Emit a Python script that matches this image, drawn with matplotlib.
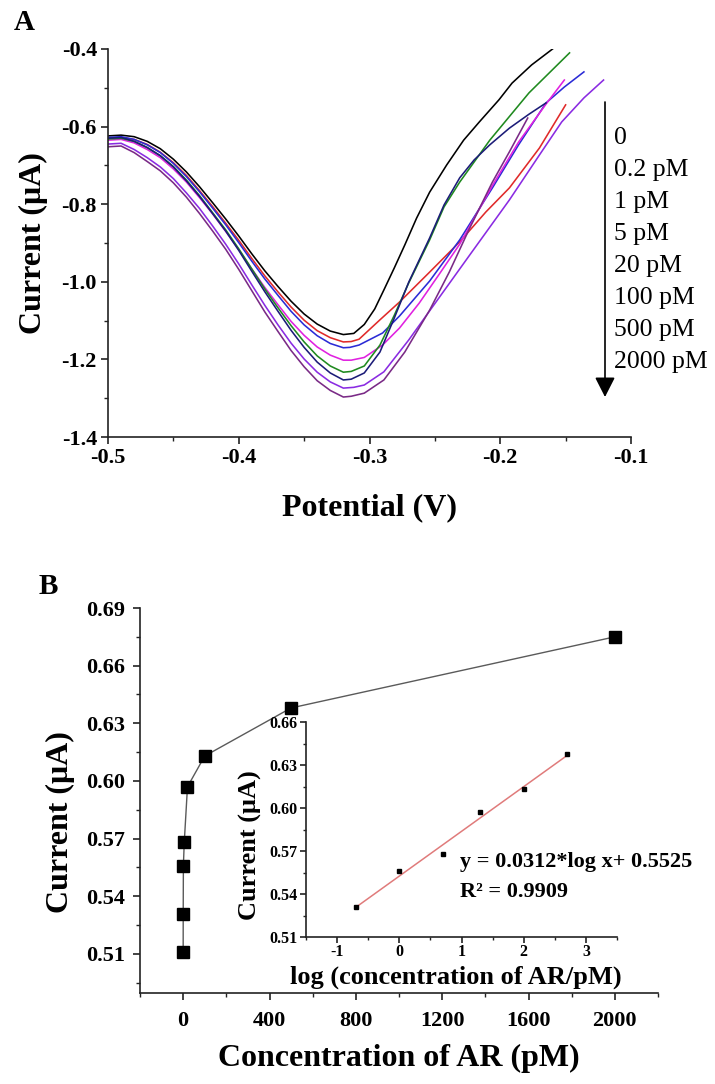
import numpy as np
import matplotlib
matplotlib.use("Agg")
import matplotlib.pyplot as plt
from matplotlib.ticker import FixedLocator, MultipleLocator, FormatStrFormatter

plt.rcParams['font.family'] = ['Liberation Serif', 'DejaVu Serif']
plt.rcParams['font.weight'] = 'bold'
plt.rcParams['axes.unicode_minus'] = False

W, H = 715, 1084

# ---------------- Panel A data (DPV curves) ----------------
pot_left = [-0.50, -0.49, -0.48, -0.47, -0.46, -0.45, -0.44, -0.43, -0.42, -0.41,
            -0.40, -0.39, -0.38, -0.37, -0.36, -0.35, -0.34, -0.33, -0.32]

cur0_left = [-0.624, -0.622, -0.626, -0.638, -0.657, -0.684, -0.717, -0.755, -0.796, -0.838,
             -0.882, -0.928, -0.972, -1.012, -1.050, -1.083, -1.109, -1.127, -1.136]
pot0_right = [-0.312, -0.304, -0.296, -0.289, -0.281, -0.273, -0.264, -0.254, -0.241, -0.228,
              -0.216, -0.201, -0.191, -0.176, -0.160]
cur0_right = [-1.133, -1.110, -1.070, -1.021, -0.964, -0.905, -0.836, -0.769, -0.699, -0.635,
              -0.588, -0.531, -0.488, -0.441, -0.400]

cur02_left = [-0.630, -0.628, -0.633, -0.646, -0.666, -0.693, -0.726, -0.765, -0.806, -0.849,
              -0.893, -0.940, -0.985, -1.026, -1.065, -1.099, -1.126, -1.144, -1.155]
pot02_right = [-0.314, -0.308, -0.292, -0.277, -0.254, -0.231, -0.211, -0.193, -0.170, -0.150]
cur02_right = [-1.154, -1.148, -1.098, -1.052, -0.975, -0.897, -0.820, -0.758, -0.655, -0.544]

cur1_left = [-0.628, -0.626, -0.633, -0.647, -0.667, -0.695, -0.729, -0.768, -0.810, -0.853,
             -0.899, -0.947, -0.993, -1.035, -1.076, -1.111, -1.139, -1.159, -1.170]
pot1_right = [-0.315, -0.308, -0.290, -0.277, -0.254, -0.231, -0.206, -0.186, -0.165, -0.151, -0.136]
cur1_right = [-1.169, -1.163, -1.132, -1.088, -0.998, -0.892, -0.758, -0.647, -0.539, -0.498, -0.459]

cur5_left = [-0.635, -0.633, -0.642, -0.659, -0.680, -0.709, -0.743, -0.783, -0.825, -0.870,
             -0.917, -0.967, -1.015, -1.059, -1.102, -1.138, -1.168, -1.189, -1.202]
pot5_right = [-0.314, -0.304, -0.290, -0.277, -0.262, -0.247, -0.231, -0.206, -0.186, -0.165, -0.151]
cur5_right = [-1.202, -1.195, -1.163, -1.119, -1.055, -0.982, -0.903, -0.752, -0.640, -0.542, -0.480]

cur20_left = [-0.632, -0.630, -0.638, -0.654, -0.675, -0.703, -0.738, -0.778, -0.822, -0.866,
              -0.915, -0.967, -1.019, -1.067, -1.113, -1.155, -1.191, -1.217, -1.233]
pot20_right = [-0.314, -0.304, -0.292, -0.281, -0.270, -0.254, -0.243, -0.231, -0.208, -0.178, -0.147]
cur20_right = [-1.231, -1.217, -1.163, -1.086, -1.003, -0.892, -0.807, -0.743, -0.635, -0.513, -0.410]

cur100_left = [-0.630, -0.628, -0.638, -0.654, -0.675, -0.704, -0.740, -0.780, -0.824, -0.869,
               -0.919, -0.973, -1.026, -1.076, -1.125, -1.169, -1.207, -1.235, -1.253]
pot100_right = [-0.314, -0.304, -0.292, -0.281, -0.270, -0.254, -0.243, -0.231, -0.220, -0.208,
                -0.193, -0.178, -0.165]
cur100_right = [-1.251, -1.235, -1.181, -1.093, -1.001, -0.887, -0.802, -0.732, -0.686, -0.647,
                -0.604, -0.568, -0.539]

cur500_left = [-0.645, -0.643, -0.659, -0.680, -0.704, -0.734, -0.771, -0.811, -0.856, -0.903,
               -0.954, -1.008, -1.061, -1.111, -1.158, -1.199, -1.233, -1.258, -1.274]
pot500_right = [-0.312, -0.304, -0.289, -0.270, -0.247, -0.224, -0.193, -0.170, -0.153, -0.136, -0.121]
cur500_right = [-1.272, -1.266, -1.232, -1.150, -1.042, -0.934, -0.789, -0.673, -0.588, -0.526, -0.480]

cur2000_left = [-0.652, -0.650, -0.667, -0.690, -0.714, -0.745, -0.782, -0.824, -0.869, -0.916,
                -0.968, -1.023, -1.078, -1.128, -1.177, -1.219, -1.255, -1.280, -1.297]
pot2000_right = [-0.314, -0.304, -0.289, -0.273, -0.254, -0.239, -0.224, -0.206, -0.193, -0.179]
cur2000_right = [-1.295, -1.287, -1.253, -1.181, -1.073, -0.975, -0.866, -0.743, -0.665, -0.578]

legend_labels = ["0", "0.2 pM", "1 pM", "5 pM", "20 pM", "100 pM", "500 pM", "2000 pM"]
curve_colors = ["#000000", "#e02a2a", "#2b2bd6", "#e021e0", "#1f8a1f", "#1c1c78", "#8a2be2", "#7a2a86"]

# ---------------- Panel B data ----------------
conc_pM = [0, 0.2, 1, 5, 20, 100, 500, 2000]
current_uA = [0.511, 0.531, 0.556, 0.568, 0.597, 0.613, 0.638, 0.675]

inset_conc_pM = [0.2, 1, 5, 20, 100, 500]
inset_current = [0.531, 0.556, 0.568, 0.597, 0.613, 0.638]
fit_logx = [-0.699, 2.699]
fit_current = [0.5307, 0.6367]

# ---------------- figure ----------------
fig = plt.figure(figsize=(W / 100, H / 100), dpi=100)


def add_axes_px(l, t, r, b):
    return fig.add_axes([l / W, 1 - b / H, (r - l) / W, (b - t) / H])


def ftext(px, py, s, **kw):
    return fig.text(px / W, 1 - py / H, s, **kw)


def style_axes(ax, labelsize, pad, maj=5, mnr=3):
    for s in ['top', 'right']:
        ax.spines[s].set_visible(False)
    for s in ['left', 'bottom']:
        ax.spines[s].set_linewidth(1.2)
        ax.spines[s].set_color('#222222')
    ax.tick_params(which='major', direction='out', length=maj, width=1.2,
                   labelsize=labelsize, pad=pad, colors='#222222', labelcolor='black')
    ax.tick_params(which='minor', direction='out', length=mnr, width=1.0, colors='#222222')


# Panel A
axA = add_axes_px(108, 49, 631, 437)
lefts = [cur0_left, cur02_left, cur1_left, cur5_left, cur20_left, cur100_left, cur500_left, cur2000_left]
rx = [pot0_right, pot02_right, pot1_right, pot5_right, pot20_right, pot100_right, pot500_right, pot2000_right]
ry = [cur0_right, cur02_right, cur1_right, cur5_right, cur20_right, cur100_right, cur500_right, cur2000_right]
for yl, xr, yr, c in zip(lefts, rx, ry, curve_colors):
    axA.plot(list(pot_left) + list(xr), list(yl) + list(yr), color=c, lw=1.15,
             solid_joinstyle='round')
axA.set_xlim(-0.5, -0.1)
axA.set_ylim(-1.4, -0.4)
axA.xaxis.set_major_locator(MultipleLocator(0.1))
axA.xaxis.set_minor_locator(MultipleLocator(0.05))
axA.yaxis.set_major_locator(MultipleLocator(0.2))
axA.yaxis.set_minor_locator(MultipleLocator(0.1))
axA.xaxis.set_major_formatter(FormatStrFormatter('%.1f'))
axA.yaxis.set_major_formatter(FormatStrFormatter('%.1f'))
style_axes(axA, 16, 3)

ftext(33, 243, "Current (μA)", rotation=90, ha='center', va='center', fontsize=23, fontweight='bold')
ftext(370, 508, "Potential (V)", ha='center', va='center', fontsize=23, fontweight='bold')
ftext(14, 23, "A", ha='left', va='center', fontsize=21, fontweight='bold')

# legend list with arrow
for i, lab in enumerate(legend_labels):
    ftext(614, 138 + i * 32, lab, ha='left', va='center', fontsize=18.5, fontweight='normal')
axA.annotate('', xy=(605 / W, 1 - 397 / H), xytext=(605 / W, 1 - 102 / H),
             xycoords='figure fraction', textcoords='figure fraction',
             arrowprops=dict(arrowstyle='-|>,head_length=0.55,head_width=0.28', color='black',
                             lw=1.2, mutation_scale=22, shrinkA=0, shrinkB=0))

# Panel B
axB = add_axes_px(140, 608, 658, 993)
axB.plot(conc_pM, current_uA, color='#5a5a5a', lw=1.0, marker='s', ms=8.5,
         mfc='black', mec='black', zorder=3)
axB.set_xlim(-200, 2200)
axB.set_ylim(0.4897, 0.69)
axB.xaxis.set_major_locator(FixedLocator([0, 400, 800, 1200, 1600, 2000]))
axB.xaxis.set_minor_locator(FixedLocator([-200, 200, 600, 1000, 1400, 1800, 2200]))
axB.yaxis.set_major_locator(FixedLocator([0.51, 0.54, 0.57, 0.60, 0.63, 0.66, 0.69]))
axB.yaxis.set_minor_locator(FixedLocator([0.495, 0.525, 0.555, 0.585, 0.615, 0.645, 0.675]))
axB.xaxis.set_major_formatter(FormatStrFormatter('%d'))
axB.yaxis.set_major_formatter(FormatStrFormatter('%.2f'))
style_axes(axB, 16, 6)
axB.tick_params(axis='x', which='major', pad=8)

ftext(60, 822, "Current (μA)", rotation=90, ha='center', va='center', fontsize=23, fontweight='bold')
ftext(399, 1058, "Concentration of AR (pM)", ha='center', va='center', fontsize=23, fontweight='bold')
ftext(39, 586, "B", ha='left', va='center', fontsize=21, fontweight='bold')

# Inset
axI = add_axes_px(306, 722, 617, 937)
axI.patch.set_alpha(0)
axI.plot(fit_logx, fit_current, color='#e07b7b', lw=1.1)
axI.plot(np.log10(inset_conc_pM), inset_current, 's', ms=3.2, color='black')
axI.set_xlim(-1.5, 3.5)
axI.set_ylim(0.51, 0.66)
axI.xaxis.set_major_locator(FixedLocator([-1, 0, 1, 2, 3]))
axI.xaxis.set_minor_locator(FixedLocator([-1.5, -0.5, 0.5, 1.5, 2.5, 3.5]))
axI.yaxis.set_major_locator(FixedLocator([0.51, 0.54, 0.57, 0.60, 0.63, 0.66]))
axI.yaxis.set_minor_locator(FixedLocator([0.525, 0.555, 0.585, 0.615, 0.645]))
axI.xaxis.set_major_formatter(FormatStrFormatter('%d'))
axI.yaxis.set_major_formatter(FormatStrFormatter('%.2f'))
style_axes(axI, 11.5, 2, maj=4, mnr=2.5)
axI.tick_params(axis='x', which='major', pad=1)

ftext(250, 845, "Current (μA)", rotation=90, ha='center', va='center', fontsize=19, fontweight='bold')
ftext(456, 977, "log (concentration of AR/pM)", ha='center', va='center', fontsize=19, fontweight='bold')
ftext(460, 862, "y = 0.0312*log x+ 0.5525", ha='left', va='center', fontsize=16, fontweight='bold')
ftext(460, 892, "R² = 0.9909", ha='left', va='center', fontsize=16, fontweight='bold')

fig.savefig("out.png", dpi=100)
